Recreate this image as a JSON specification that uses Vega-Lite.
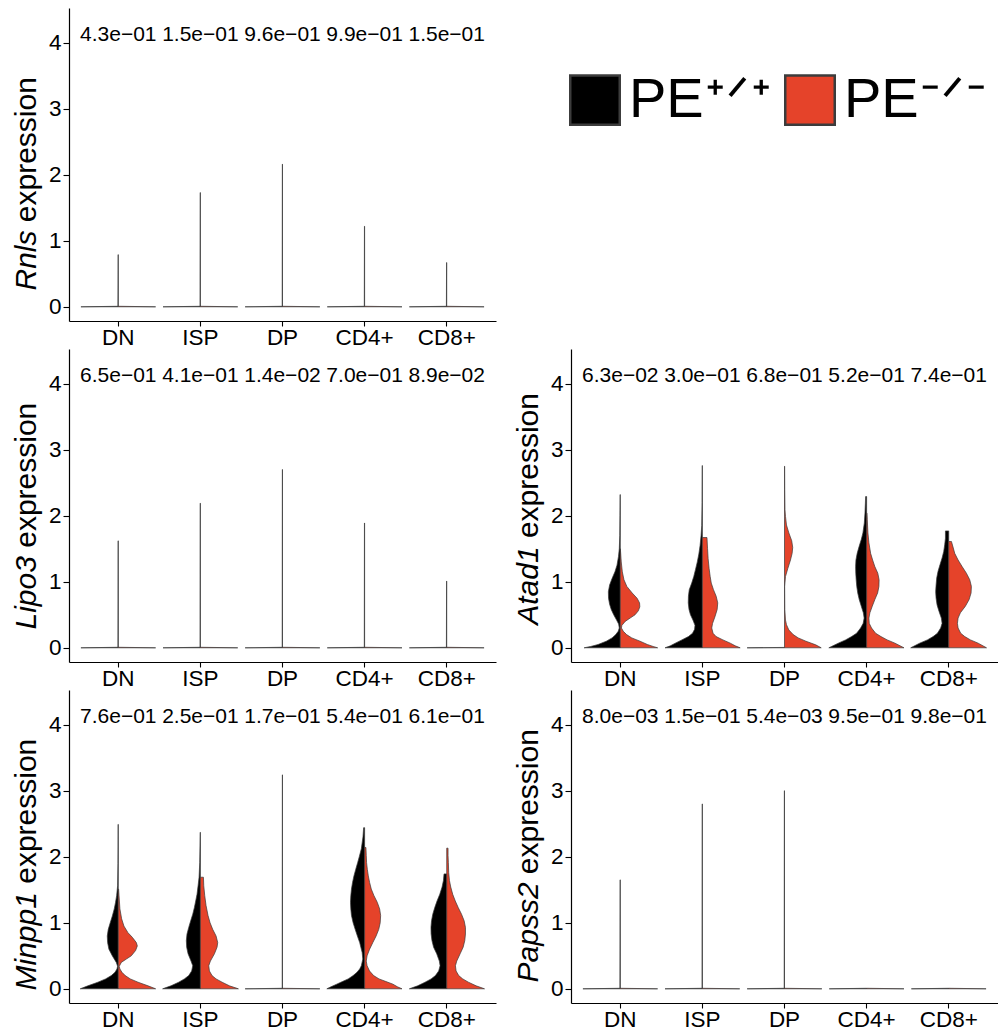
{
"$schema": "https://vega.github.io/schema/vega-lite/v6.json",
"background": "white",
"padding": {"left": 10, "top": 8, "right": 0, "bottom": 0},
"spacing": 0,
"config": {
  "view": {"stroke": null},
  "font": "Liberation Sans",
  "axis": {"labelFont": "Liberation Sans", "titleFont": "Liberation Sans", "labelColor": "#000", "titleColor": "#000", "domainColor": "#000", "tickColor": "#000", "domainWidth": 1.2, "tickWidth": 1.1, "tickSize": 6, "grid": false, "titleFontWeight": "normal", "titleFontSize": 30},
  "axisX": {"labelFontSize": 22.5, "labelPadding": 0, "tickSize": 5},
  "axisY": {"labelFontSize": 22.5, "labelPadding": 2}
},
"datasets": {
"pv": [
{"g":"Rnls","c":"DN","p":"4.3e−01"},{"g":"Rnls","c":"ISP","p":"1.5e−01"},{"g":"Rnls","c":"DP","p":"9.6e−01"},{"g":"Rnls","c":"CD4+","p":"9.9e−01"},{"g":"Rnls","c":"CD8+","p":"1.5e−01"},
{"g":"Lipo3","c":"DN","p":"6.5e−01"},{"g":"Lipo3","c":"ISP","p":"4.1e−01"},{"g":"Lipo3","c":"DP","p":"1.4e−02"},{"g":"Lipo3","c":"CD4+","p":"7.0e−01"},{"g":"Lipo3","c":"CD8+","p":"8.9e−02"},
{"g":"Atad1","c":"DN","p":"6.3e−02"},{"g":"Atad1","c":"ISP","p":"3.0e−01"},{"g":"Atad1","c":"DP","p":"6.8e−01"},{"g":"Atad1","c":"CD4+","p":"5.2e−01"},{"g":"Atad1","c":"CD8+","p":"7.4e−01"},
{"g":"Minpp1","c":"DN","p":"7.6e−01"},{"g":"Minpp1","c":"ISP","p":"2.5e−01"},{"g":"Minpp1","c":"DP","p":"1.7e−01"},{"g":"Minpp1","c":"CD4+","p":"5.4e−01"},{"g":"Minpp1","c":"CD8+","p":"6.1e−01"},
{"g":"Papss2","c":"DN","p":"8.0e−03"},{"g":"Papss2","c":"ISP","p":"1.5e−01"},{"g":"Papss2","c":"DP","p":"5.4e−03"},{"g":"Papss2","c":"CD4+","p":"9.5e−01"},{"g":"Papss2","c":"CD8+","p":"9.8e−01"}
],
"Rnls": [
{"c":"DN","t":"PE+/+","y":0,"w":0},{"c":"DN","t":"PE+/+","y":0,"w":0.455},{"c":"DN","t":"PE+/+","y":0.008,"w":0.004},{"c":"DN","t":"PE+/+","y":0.79,"w":0.002},{"c":"DN","t":"PE+/+","y":0.79,"w":0},{"c":"DN","t":"PE+/+","y":0,"w":0},
{"c":"DN","t":"PE-/-","y":0,"w":0},{"c":"DN","t":"PE-/-","y":0,"w":0.455},{"c":"DN","t":"PE-/-","y":0.008,"w":0.004},{"c":"DN","t":"PE-/-","y":0.008,"w":0},{"c":"DN","t":"PE-/-","y":0,"w":0},
{"c":"ISP","t":"PE+/+","y":0,"w":0},{"c":"ISP","t":"PE+/+","y":0,"w":0.455},{"c":"ISP","t":"PE+/+","y":0.008,"w":0.004},{"c":"ISP","t":"PE+/+","y":1.73,"w":0.002},{"c":"ISP","t":"PE+/+","y":1.73,"w":0},{"c":"ISP","t":"PE+/+","y":0,"w":0},
{"c":"ISP","t":"PE-/-","y":0,"w":0},{"c":"ISP","t":"PE-/-","y":0,"w":0.455},{"c":"ISP","t":"PE-/-","y":0.008,"w":0.004},{"c":"ISP","t":"PE-/-","y":0.008,"w":0},{"c":"ISP","t":"PE-/-","y":0,"w":0},
{"c":"DP","t":"PE+/+","y":0,"w":0},{"c":"DP","t":"PE+/+","y":0,"w":0.455},{"c":"DP","t":"PE+/+","y":0.008,"w":0.004},{"c":"DP","t":"PE+/+","y":2.16,"w":0.002},{"c":"DP","t":"PE+/+","y":2.16,"w":0},{"c":"DP","t":"PE+/+","y":0,"w":0},
{"c":"DP","t":"PE-/-","y":0,"w":0},{"c":"DP","t":"PE-/-","y":0,"w":0.455},{"c":"DP","t":"PE-/-","y":0.008,"w":0.004},{"c":"DP","t":"PE-/-","y":0.008,"w":0},{"c":"DP","t":"PE-/-","y":0,"w":0},
{"c":"CD4+","t":"PE+/+","y":0,"w":0},{"c":"CD4+","t":"PE+/+","y":0,"w":0.455},{"c":"CD4+","t":"PE+/+","y":0.008,"w":0.004},{"c":"CD4+","t":"PE+/+","y":1.22,"w":0.002},{"c":"CD4+","t":"PE+/+","y":1.22,"w":0},{"c":"CD4+","t":"PE+/+","y":0,"w":0},
{"c":"CD4+","t":"PE-/-","y":0,"w":0},{"c":"CD4+","t":"PE-/-","y":0,"w":0.455},{"c":"CD4+","t":"PE-/-","y":0.008,"w":0.004},{"c":"CD4+","t":"PE-/-","y":0.008,"w":0},{"c":"CD4+","t":"PE-/-","y":0,"w":0},
{"c":"CD8+","t":"PE+/+","y":0,"w":0},{"c":"CD8+","t":"PE+/+","y":0,"w":0.455},{"c":"CD8+","t":"PE+/+","y":0.008,"w":0.004},{"c":"CD8+","t":"PE+/+","y":0.67,"w":0.002},{"c":"CD8+","t":"PE+/+","y":0.67,"w":0},{"c":"CD8+","t":"PE+/+","y":0,"w":0},
{"c":"CD8+","t":"PE-/-","y":0,"w":0},{"c":"CD8+","t":"PE-/-","y":0,"w":0.455},{"c":"CD8+","t":"PE-/-","y":0.008,"w":0.004},{"c":"CD8+","t":"PE-/-","y":0.008,"w":0},{"c":"CD8+","t":"PE-/-","y":0,"w":0}
],
"Lipo3": [
{"c":"DN","t":"PE+/+","y":0,"w":0},{"c":"DN","t":"PE+/+","y":0,"w":0.455},{"c":"DN","t":"PE+/+","y":0.008,"w":0.004},{"c":"DN","t":"PE+/+","y":1.62,"w":0.002},{"c":"DN","t":"PE+/+","y":1.62,"w":0},{"c":"DN","t":"PE+/+","y":0,"w":0},
{"c":"DN","t":"PE-/-","y":0,"w":0},{"c":"DN","t":"PE-/-","y":0,"w":0.455},{"c":"DN","t":"PE-/-","y":0.008,"w":0.004},{"c":"DN","t":"PE-/-","y":0.008,"w":0},{"c":"DN","t":"PE-/-","y":0,"w":0},
{"c":"ISP","t":"PE+/+","y":0,"w":0},{"c":"ISP","t":"PE+/+","y":0,"w":0.455},{"c":"ISP","t":"PE+/+","y":0.008,"w":0.004},{"c":"ISP","t":"PE+/+","y":2.19,"w":0.002},{"c":"ISP","t":"PE+/+","y":2.19,"w":0},{"c":"ISP","t":"PE+/+","y":0,"w":0},
{"c":"ISP","t":"PE-/-","y":0,"w":0},{"c":"ISP","t":"PE-/-","y":0,"w":0.455},{"c":"ISP","t":"PE-/-","y":0.008,"w":0.004},{"c":"ISP","t":"PE-/-","y":0.008,"w":0},{"c":"ISP","t":"PE-/-","y":0,"w":0},
{"c":"DP","t":"PE+/+","y":0,"w":0},{"c":"DP","t":"PE+/+","y":0,"w":0.455},{"c":"DP","t":"PE+/+","y":0.008,"w":0.004},{"c":"DP","t":"PE+/+","y":2.7,"w":0.002},{"c":"DP","t":"PE+/+","y":2.7,"w":0},{"c":"DP","t":"PE+/+","y":0,"w":0},
{"c":"DP","t":"PE-/-","y":0,"w":0},{"c":"DP","t":"PE-/-","y":0,"w":0.455},{"c":"DP","t":"PE-/-","y":0.008,"w":0.004},{"c":"DP","t":"PE-/-","y":0.008,"w":0},{"c":"DP","t":"PE-/-","y":0,"w":0},
{"c":"CD4+","t":"PE+/+","y":0,"w":0},{"c":"CD4+","t":"PE+/+","y":0,"w":0.455},{"c":"CD4+","t":"PE+/+","y":0.008,"w":0.004},{"c":"CD4+","t":"PE+/+","y":1.89,"w":0.002},{"c":"CD4+","t":"PE+/+","y":1.89,"w":0},{"c":"CD4+","t":"PE+/+","y":0,"w":0},
{"c":"CD4+","t":"PE-/-","y":0,"w":0},{"c":"CD4+","t":"PE-/-","y":0,"w":0.455},{"c":"CD4+","t":"PE-/-","y":0.008,"w":0.004},{"c":"CD4+","t":"PE-/-","y":0.008,"w":0},{"c":"CD4+","t":"PE-/-","y":0,"w":0},
{"c":"CD8+","t":"PE+/+","y":0,"w":0},{"c":"CD8+","t":"PE+/+","y":0,"w":0.455},{"c":"CD8+","t":"PE+/+","y":0.008,"w":0.004},{"c":"CD8+","t":"PE+/+","y":1.01,"w":0.002},{"c":"CD8+","t":"PE+/+","y":1.01,"w":0},{"c":"CD8+","t":"PE+/+","y":0,"w":0},
{"c":"CD8+","t":"PE-/-","y":0,"w":0},{"c":"CD8+","t":"PE-/-","y":0,"w":0.455},{"c":"CD8+","t":"PE-/-","y":0.008,"w":0.004},{"c":"CD8+","t":"PE-/-","y":0.008,"w":0},{"c":"CD8+","t":"PE-/-","y":0,"w":0}
],
"Papss2": [
{"c":"DN","t":"PE+/+","y":0,"w":0},{"c":"DN","t":"PE+/+","y":0,"w":0.455},{"c":"DN","t":"PE+/+","y":0.008,"w":0.004},{"c":"DN","t":"PE+/+","y":1.65,"w":0.002},{"c":"DN","t":"PE+/+","y":1.65,"w":0},{"c":"DN","t":"PE+/+","y":0,"w":0},
{"c":"DN","t":"PE-/-","y":0,"w":0},{"c":"DN","t":"PE-/-","y":0,"w":0.455},{"c":"DN","t":"PE-/-","y":0.008,"w":0.004},{"c":"DN","t":"PE-/-","y":0.008,"w":0},{"c":"DN","t":"PE-/-","y":0,"w":0},
{"c":"ISP","t":"PE+/+","y":0,"w":0},{"c":"ISP","t":"PE+/+","y":0,"w":0.455},{"c":"ISP","t":"PE+/+","y":0.008,"w":0.004},{"c":"ISP","t":"PE+/+","y":2.8,"w":0.002},{"c":"ISP","t":"PE+/+","y":2.8,"w":0},{"c":"ISP","t":"PE+/+","y":0,"w":0},
{"c":"ISP","t":"PE-/-","y":0,"w":0},{"c":"ISP","t":"PE-/-","y":0,"w":0.455},{"c":"ISP","t":"PE-/-","y":0.008,"w":0.004},{"c":"ISP","t":"PE-/-","y":0.008,"w":0},{"c":"ISP","t":"PE-/-","y":0,"w":0},
{"c":"DP","t":"PE+/+","y":0,"w":0},{"c":"DP","t":"PE+/+","y":0,"w":0.455},{"c":"DP","t":"PE+/+","y":0.008,"w":0.004},{"c":"DP","t":"PE+/+","y":3.0,"w":0.002},{"c":"DP","t":"PE+/+","y":3.0,"w":0},{"c":"DP","t":"PE+/+","y":0,"w":0},
{"c":"DP","t":"PE-/-","y":0,"w":0},{"c":"DP","t":"PE-/-","y":0,"w":0.455},{"c":"DP","t":"PE-/-","y":0.008,"w":0.004},{"c":"DP","t":"PE-/-","y":0.008,"w":0},{"c":"DP","t":"PE-/-","y":0,"w":0},
{"c":"CD4+","t":"PE+/+","y":0,"w":0},{"c":"CD4+","t":"PE+/+","y":0,"w":0.455},{"c":"CD4+","t":"PE+/+","y":0.008,"w":0.004},{"c":"CD4+","t":"PE+/+","y":0.008,"w":0},{"c":"CD4+","t":"PE+/+","y":0,"w":0},
{"c":"CD4+","t":"PE-/-","y":0,"w":0},{"c":"CD4+","t":"PE-/-","y":0,"w":0.455},{"c":"CD4+","t":"PE-/-","y":0.008,"w":0.004},{"c":"CD4+","t":"PE-/-","y":0.008,"w":0},{"c":"CD4+","t":"PE-/-","y":0,"w":0},
{"c":"CD8+","t":"PE+/+","y":0,"w":0},{"c":"CD8+","t":"PE+/+","y":0,"w":0.455},{"c":"CD8+","t":"PE+/+","y":0.008,"w":0.004},{"c":"CD8+","t":"PE+/+","y":0.008,"w":0},{"c":"CD8+","t":"PE+/+","y":0,"w":0},
{"c":"CD8+","t":"PE-/-","y":0,"w":0},{"c":"CD8+","t":"PE-/-","y":0,"w":0.455},{"c":"CD8+","t":"PE-/-","y":0.008,"w":0.004},{"c":"CD8+","t":"PE-/-","y":0.008,"w":0},{"c":"CD8+","t":"PE-/-","y":0,"w":0}
],
"Atad1": [
{"c":"DN","t":"PE+/+","y":0,"w":0},{"c":"DN","t":"PE+/+","y":0,"w":0.44},{"c":"DN","t":"PE+/+","y":0.02,"w":0.36},{"c":"DN","t":"PE+/+","y":0.05,"w":0.27},{"c":"DN","t":"PE+/+","y":0.1,"w":0.17},{"c":"DN","t":"PE+/+","y":0.15,"w":0.1},{"c":"DN","t":"PE+/+","y":0.2,"w":0.055},{"c":"DN","t":"PE+/+","y":0.25,"w":0.025},{"c":"DN","t":"PE+/+","y":0.3,"w":0.012},{"c":"DN","t":"PE+/+","y":0.36,"w":0.02},{"c":"DN","t":"PE+/+","y":0.42,"w":0.045},{"c":"DN","t":"PE+/+","y":0.5,"w":0.08},{"c":"DN","t":"PE+/+","y":0.58,"w":0.11},{"c":"DN","t":"PE+/+","y":0.66,"w":0.13},{"c":"DN","t":"PE+/+","y":0.75,"w":0.143},{"c":"DN","t":"PE+/+","y":0.85,"w":0.145},{"c":"DN","t":"PE+/+","y":0.95,"w":0.13},{"c":"DN","t":"PE+/+","y":1.05,"w":0.1},{"c":"DN","t":"PE+/+","y":1.15,"w":0.065},{"c":"DN","t":"PE+/+","y":1.25,"w":0.04},{"c":"DN","t":"PE+/+","y":1.38,"w":0.022},{"c":"DN","t":"PE+/+","y":1.5,"w":0.012},{"c":"DN","t":"PE+/+","y":1.7,"w":0.006},{"c":"DN","t":"PE+/+","y":2.0,"w":0.004},{"c":"DN","t":"PE+/+","y":2.32,"w":0.002},{"c":"DN","t":"PE+/+","y":2.32,"w":0},{"c":"DN","t":"PE+/+","y":0,"w":0},
{"c":"DN","t":"PE-/-","y":0,"w":0},{"c":"DN","t":"PE-/-","y":0,"w":0.455},{"c":"DN","t":"PE-/-","y":0.02,"w":0.4},{"c":"DN","t":"PE-/-","y":0.05,"w":0.33},{"c":"DN","t":"PE-/-","y":0.1,"w":0.24},{"c":"DN","t":"PE-/-","y":0.15,"w":0.14},{"c":"DN","t":"PE-/-","y":0.2,"w":0.077},{"c":"DN","t":"PE-/-","y":0.25,"w":0.037},{"c":"DN","t":"PE-/-","y":0.3,"w":0.014},{"c":"DN","t":"PE-/-","y":0.34,"w":0.02},{"c":"DN","t":"PE-/-","y":0.4,"w":0.06},{"c":"DN","t":"PE-/-","y":0.45,"w":0.12},{"c":"DN","t":"PE-/-","y":0.5,"w":0.18},{"c":"DN","t":"PE-/-","y":0.56,"w":0.22},{"c":"DN","t":"PE-/-","y":0.62,"w":0.238},{"c":"DN","t":"PE-/-","y":0.68,"w":0.235},{"c":"DN","t":"PE-/-","y":0.75,"w":0.205},{"c":"DN","t":"PE-/-","y":0.83,"w":0.145},{"c":"DN","t":"PE-/-","y":0.93,"w":0.08},{"c":"DN","t":"PE-/-","y":1.03,"w":0.045},{"c":"DN","t":"PE-/-","y":1.15,"w":0.025},{"c":"DN","t":"PE-/-","y":1.3,"w":0.012},{"c":"DN","t":"PE-/-","y":1.45,"w":0.004},{"c":"DN","t":"PE-/-","y":1.5,"w":0},{"c":"DN","t":"PE-/-","y":0,"w":0},
{"c":"ISP","t":"PE+/+","y":0,"w":0},{"c":"ISP","t":"PE+/+","y":0,"w":0.455},{"c":"ISP","t":"PE+/+","y":0.03,"w":0.39},{"c":"ISP","t":"PE+/+","y":0.07,"w":0.33},{"c":"ISP","t":"PE+/+","y":0.12,"w":0.25},{"c":"ISP","t":"PE+/+","y":0.17,"w":0.17},{"c":"ISP","t":"PE+/+","y":0.22,"w":0.12},{"c":"ISP","t":"PE+/+","y":0.28,"w":0.095},{"c":"ISP","t":"PE+/+","y":0.34,"w":0.09},{"c":"ISP","t":"PE+/+","y":0.42,"w":0.115},{"c":"ISP","t":"PE+/+","y":0.5,"w":0.145},{"c":"ISP","t":"PE+/+","y":0.58,"w":0.163},{"c":"ISP","t":"PE+/+","y":0.68,"w":0.172},{"c":"ISP","t":"PE+/+","y":0.78,"w":0.17},{"c":"ISP","t":"PE+/+","y":0.88,"w":0.16},{"c":"ISP","t":"PE+/+","y":0.98,"w":0.13},{"c":"ISP","t":"PE+/+","y":1.08,"w":0.105},{"c":"ISP","t":"PE+/+","y":1.18,"w":0.085},{"c":"ISP","t":"PE+/+","y":1.3,"w":0.062},{"c":"ISP","t":"PE+/+","y":1.42,"w":0.043},{"c":"ISP","t":"PE+/+","y":1.55,"w":0.028},{"c":"ISP","t":"PE+/+","y":1.7,"w":0.016},{"c":"ISP","t":"PE+/+","y":1.85,"w":0.008},{"c":"ISP","t":"PE+/+","y":2.2,"w":0.004},{"c":"ISP","t":"PE+/+","y":2.76,"w":0.002},{"c":"ISP","t":"PE+/+","y":2.76,"w":0},{"c":"ISP","t":"PE+/+","y":0,"w":0},
{"c":"ISP","t":"PE-/-","y":0,"w":0},{"c":"ISP","t":"PE-/-","y":0,"w":0.46},{"c":"ISP","t":"PE-/-","y":0.03,"w":0.4},{"c":"ISP","t":"PE-/-","y":0.07,"w":0.34},{"c":"ISP","t":"PE-/-","y":0.12,"w":0.25},{"c":"ISP","t":"PE-/-","y":0.17,"w":0.167},{"c":"ISP","t":"PE-/-","y":0.22,"w":0.13},{"c":"ISP","t":"PE-/-","y":0.3,"w":0.114},{"c":"ISP","t":"PE-/-","y":0.37,"w":0.124},{"c":"ISP","t":"PE-/-","y":0.47,"w":0.153},{"c":"ISP","t":"PE-/-","y":0.58,"w":0.18},{"c":"ISP","t":"PE-/-","y":0.68,"w":0.187},{"c":"ISP","t":"PE-/-","y":0.78,"w":0.168},{"c":"ISP","t":"PE-/-","y":0.88,"w":0.135},{"c":"ISP","t":"PE-/-","y":0.98,"w":0.108},{"c":"ISP","t":"PE-/-","y":1.08,"w":0.095},{"c":"ISP","t":"PE-/-","y":1.2,"w":0.082},{"c":"ISP","t":"PE-/-","y":1.35,"w":0.07},{"c":"ISP","t":"PE-/-","y":1.5,"w":0.063},{"c":"ISP","t":"PE-/-","y":1.67,"w":0.056},{"c":"ISP","t":"PE-/-","y":1.67,"w":0},{"c":"ISP","t":"PE-/-","y":0,"w":0},
{"c":"DP","t":"PE+/+","y":0,"w":0},{"c":"DP","t":"PE+/+","y":0,"w":0.455},{"c":"DP","t":"PE+/+","y":0.006,"w":0.003},{"c":"DP","t":"PE+/+","y":0.006,"w":0},{"c":"DP","t":"PE+/+","y":0,"w":0},
{"c":"DP","t":"PE-/-","y":0,"w":0},{"c":"DP","t":"PE-/-","y":0,"w":0.447},{"c":"DP","t":"PE-/-","y":0.045,"w":0.38},{"c":"DP","t":"PE-/-","y":0.1,"w":0.26},{"c":"DP","t":"PE-/-","y":0.15,"w":0.167},{"c":"DP","t":"PE-/-","y":0.2,"w":0.106},{"c":"DP","t":"PE-/-","y":0.27,"w":0.053},{"c":"DP","t":"PE-/-","y":0.35,"w":0.024},{"c":"DP","t":"PE-/-","y":0.42,"w":0.012},{"c":"DP","t":"PE-/-","y":0.58,"w":0.004},{"c":"DP","t":"PE-/-","y":0.93,"w":0.002},{"c":"DP","t":"PE-/-","y":1.08,"w":0.012},{"c":"DP","t":"PE-/-","y":1.2,"w":0.04},{"c":"DP","t":"PE-/-","y":1.33,"w":0.073},{"c":"DP","t":"PE-/-","y":1.43,"w":0.093},{"c":"DP","t":"PE-/-","y":1.52,"w":0.1},{"c":"DP","t":"PE-/-","y":1.62,"w":0.088},{"c":"DP","t":"PE-/-","y":1.74,"w":0.053},{"c":"DP","t":"PE-/-","y":1.86,"w":0.024},{"c":"DP","t":"PE-/-","y":1.99,"w":0.012},{"c":"DP","t":"PE-/-","y":2.09,"w":0.006},{"c":"DP","t":"PE-/-","y":2.4,"w":0.003},{"c":"DP","t":"PE-/-","y":2.75,"w":0.002},{"c":"DP","t":"PE-/-","y":2.75,"w":0},{"c":"DP","t":"PE-/-","y":0,"w":0},
{"c":"CD4+","t":"PE+/+","y":0,"w":0},{"c":"CD4+","t":"PE+/+","y":0,"w":0.46},{"c":"CD4+","t":"PE+/+","y":0.07,"w":0.345},{"c":"CD4+","t":"PE+/+","y":0.12,"w":0.256},{"c":"CD4+","t":"PE+/+","y":0.17,"w":0.183},{"c":"CD4+","t":"PE+/+","y":0.22,"w":0.122},{"c":"CD4+","t":"PE+/+","y":0.3,"w":0.073},{"c":"CD4+","t":"PE+/+","y":0.37,"w":0.042},{"c":"CD4+","t":"PE+/+","y":0.45,"w":0.03},{"c":"CD4+","t":"PE+/+","y":0.53,"w":0.04},{"c":"CD4+","t":"PE+/+","y":0.63,"w":0.065},{"c":"CD4+","t":"PE+/+","y":0.73,"w":0.09},{"c":"CD4+","t":"PE+/+","y":0.83,"w":0.108},{"c":"CD4+","t":"PE+/+","y":0.93,"w":0.12},{"c":"CD4+","t":"PE+/+","y":1.03,"w":0.127},{"c":"CD4+","t":"PE+/+","y":1.13,"w":0.132},{"c":"CD4+","t":"PE+/+","y":1.23,"w":0.134},{"c":"CD4+","t":"PE+/+","y":1.33,"w":0.13},{"c":"CD4+","t":"PE+/+","y":1.43,"w":0.115},{"c":"CD4+","t":"PE+/+","y":1.54,"w":0.09},{"c":"CD4+","t":"PE+/+","y":1.64,"w":0.065},{"c":"CD4+","t":"PE+/+","y":1.74,"w":0.045},{"c":"CD4+","t":"PE+/+","y":1.89,"w":0.028},{"c":"CD4+","t":"PE+/+","y":2.04,"w":0.02},{"c":"CD4+","t":"PE+/+","y":2.19,"w":0.015},{"c":"CD4+","t":"PE+/+","y":2.29,"w":0.012},{"c":"CD4+","t":"PE+/+","y":2.29,"w":0},{"c":"CD4+","t":"PE+/+","y":0,"w":0},
{"c":"CD4+","t":"PE-/-","y":0,"w":0},{"c":"CD4+","t":"PE-/-","y":0,"w":0.455},{"c":"CD4+","t":"PE-/-","y":0.07,"w":0.345},{"c":"CD4+","t":"PE-/-","y":0.12,"w":0.25},{"c":"CD4+","t":"PE-/-","y":0.17,"w":0.175},{"c":"CD4+","t":"PE-/-","y":0.22,"w":0.11},{"c":"CD4+","t":"PE-/-","y":0.3,"w":0.06},{"c":"CD4+","t":"PE-/-","y":0.37,"w":0.032},{"c":"CD4+","t":"PE-/-","y":0.45,"w":0.028},{"c":"CD4+","t":"PE-/-","y":0.53,"w":0.04},{"c":"CD4+","t":"PE-/-","y":0.63,"w":0.069},{"c":"CD4+","t":"PE-/-","y":0.73,"w":0.1},{"c":"CD4+","t":"PE-/-","y":0.83,"w":0.134},{"c":"CD4+","t":"PE-/-","y":0.93,"w":0.15},{"c":"CD4+","t":"PE-/-","y":1.03,"w":0.152},{"c":"CD4+","t":"PE-/-","y":1.13,"w":0.136},{"c":"CD4+","t":"PE-/-","y":1.23,"w":0.1},{"c":"CD4+","t":"PE-/-","y":1.33,"w":0.073},{"c":"CD4+","t":"PE-/-","y":1.43,"w":0.049},{"c":"CD4+","t":"PE-/-","y":1.59,"w":0.028},{"c":"CD4+","t":"PE-/-","y":1.74,"w":0.016},{"c":"CD4+","t":"PE-/-","y":1.94,"w":0.008},{"c":"CD4+","t":"PE-/-","y":2.04,"w":0.004},{"c":"CD4+","t":"PE-/-","y":2.04,"w":0},{"c":"CD4+","t":"PE-/-","y":0,"w":0},
{"c":"CD8+","t":"PE+/+","y":0,"w":0},{"c":"CD8+","t":"PE+/+","y":0,"w":0.463},{"c":"CD8+","t":"PE+/+","y":0.07,"w":0.354},{"c":"CD8+","t":"PE+/+","y":0.12,"w":0.26},{"c":"CD8+","t":"PE+/+","y":0.17,"w":0.19},{"c":"CD8+","t":"PE+/+","y":0.22,"w":0.138},{"c":"CD8+","t":"PE+/+","y":0.3,"w":0.098},{"c":"CD8+","t":"PE+/+","y":0.37,"w":0.081},{"c":"CD8+","t":"PE+/+","y":0.45,"w":0.09},{"c":"CD8+","t":"PE+/+","y":0.55,"w":0.118},{"c":"CD8+","t":"PE+/+","y":0.65,"w":0.142},{"c":"CD8+","t":"PE+/+","y":0.75,"w":0.154},{"c":"CD8+","t":"PE+/+","y":0.85,"w":0.159},{"c":"CD8+","t":"PE+/+","y":0.95,"w":0.154},{"c":"CD8+","t":"PE+/+","y":1.06,"w":0.146},{"c":"CD8+","t":"PE+/+","y":1.16,"w":0.13},{"c":"CD8+","t":"PE+/+","y":1.26,"w":0.106},{"c":"CD8+","t":"PE+/+","y":1.36,"w":0.081},{"c":"CD8+","t":"PE+/+","y":1.46,"w":0.061},{"c":"CD8+","t":"PE+/+","y":1.56,"w":0.049},{"c":"CD8+","t":"PE+/+","y":1.66,"w":0.04},{"c":"CD8+","t":"PE+/+","y":1.77,"w":0.04},{"c":"CD8+","t":"PE+/+","y":1.77,"w":0},{"c":"CD8+","t":"PE+/+","y":0,"w":0},
{"c":"CD8+","t":"PE-/-","y":0,"w":0},{"c":"CD8+","t":"PE-/-","y":0,"w":0.46},{"c":"CD8+","t":"PE-/-","y":0.07,"w":0.358},{"c":"CD8+","t":"PE-/-","y":0.12,"w":0.264},{"c":"CD8+","t":"PE-/-","y":0.17,"w":0.195},{"c":"CD8+","t":"PE-/-","y":0.22,"w":0.146},{"c":"CD8+","t":"PE-/-","y":0.3,"w":0.114},{"c":"CD8+","t":"PE-/-","y":0.37,"w":0.106},{"c":"CD8+","t":"PE-/-","y":0.45,"w":0.114},{"c":"CD8+","t":"PE-/-","y":0.53,"w":0.142},{"c":"CD8+","t":"PE-/-","y":0.63,"w":0.203},{"c":"CD8+","t":"PE-/-","y":0.73,"w":0.248},{"c":"CD8+","t":"PE-/-","y":0.83,"w":0.272},{"c":"CD8+","t":"PE-/-","y":0.93,"w":0.276},{"c":"CD8+","t":"PE-/-","y":1.03,"w":0.256},{"c":"CD8+","t":"PE-/-","y":1.13,"w":0.215},{"c":"CD8+","t":"PE-/-","y":1.23,"w":0.163},{"c":"CD8+","t":"PE-/-","y":1.33,"w":0.114},{"c":"CD8+","t":"PE-/-","y":1.43,"w":0.073},{"c":"CD8+","t":"PE-/-","y":1.54,"w":0.049},{"c":"CD8+","t":"PE-/-","y":1.61,"w":0.033},{"c":"CD8+","t":"PE-/-","y":1.61,"w":0},{"c":"CD8+","t":"PE-/-","y":0,"w":0}
],
"Minpp1": [
{"c":"DN","t":"PE+/+","y":0,"w":0},{"c":"DN","t":"PE+/+","y":0,"w":0.463},{"c":"DN","t":"PE+/+","y":0.045,"w":0.37},{"c":"DN","t":"PE+/+","y":0.1,"w":0.248},{"c":"DN","t":"PE+/+","y":0.15,"w":0.154},{"c":"DN","t":"PE+/+","y":0.2,"w":0.085},{"c":"DN","t":"PE+/+","y":0.25,"w":0.04},{"c":"DN","t":"PE+/+","y":0.3,"w":0.016},{"c":"DN","t":"PE+/+","y":0.34,"w":0.008},{"c":"DN","t":"PE+/+","y":0.4,"w":0.024},{"c":"DN","t":"PE+/+","y":0.5,"w":0.073},{"c":"DN","t":"PE+/+","y":0.6,"w":0.114},{"c":"DN","t":"PE+/+","y":0.7,"w":0.13},{"c":"DN","t":"PE+/+","y":0.8,"w":0.134},{"c":"DN","t":"PE+/+","y":0.9,"w":0.122},{"c":"DN","t":"PE+/+","y":1.0,"w":0.098},{"c":"DN","t":"PE+/+","y":1.1,"w":0.073},{"c":"DN","t":"PE+/+","y":1.21,"w":0.049},{"c":"DN","t":"PE+/+","y":1.31,"w":0.033},{"c":"DN","t":"PE+/+","y":1.41,"w":0.02},{"c":"DN","t":"PE+/+","y":1.56,"w":0.008},{"c":"DN","t":"PE+/+","y":1.9,"w":0.004},{"c":"DN","t":"PE+/+","y":2.49,"w":0.002},{"c":"DN","t":"PE+/+","y":2.49,"w":0},{"c":"DN","t":"PE+/+","y":0,"w":0},
{"c":"DN","t":"PE-/-","y":0,"w":0},{"c":"DN","t":"PE-/-","y":0,"w":0.455},{"c":"DN","t":"PE-/-","y":0.045,"w":0.362},{"c":"DN","t":"PE-/-","y":0.1,"w":0.24},{"c":"DN","t":"PE-/-","y":0.15,"w":0.146},{"c":"DN","t":"PE-/-","y":0.2,"w":0.085},{"c":"DN","t":"PE-/-","y":0.25,"w":0.045},{"c":"DN","t":"PE-/-","y":0.3,"w":0.02},{"c":"DN","t":"PE-/-","y":0.34,"w":0.012},{"c":"DN","t":"PE-/-","y":0.4,"w":0.037},{"c":"DN","t":"PE-/-","y":0.45,"w":0.098},{"c":"DN","t":"PE-/-","y":0.5,"w":0.159},{"c":"DN","t":"PE-/-","y":0.58,"w":0.211},{"c":"DN","t":"PE-/-","y":0.65,"w":0.232},{"c":"DN","t":"PE-/-","y":0.7,"w":0.22},{"c":"DN","t":"PE-/-","y":0.78,"w":0.171},{"c":"DN","t":"PE-/-","y":0.85,"w":0.118},{"c":"DN","t":"PE-/-","y":0.95,"w":0.069},{"c":"DN","t":"PE-/-","y":1.06,"w":0.041},{"c":"DN","t":"PE-/-","y":1.21,"w":0.02},{"c":"DN","t":"PE-/-","y":1.36,"w":0.012},{"c":"DN","t":"PE-/-","y":1.51,"w":0.004},{"c":"DN","t":"PE-/-","y":1.51,"w":0},{"c":"DN","t":"PE-/-","y":0,"w":0},
{"c":"ISP","t":"PE+/+","y":0,"w":0},{"c":"ISP","t":"PE+/+","y":0,"w":0.46},{"c":"ISP","t":"PE+/+","y":0.045,"w":0.358},{"c":"ISP","t":"PE+/+","y":0.1,"w":0.264},{"c":"ISP","t":"PE+/+","y":0.15,"w":0.195},{"c":"ISP","t":"PE+/+","y":0.2,"w":0.142},{"c":"ISP","t":"PE+/+","y":0.27,"w":0.106},{"c":"ISP","t":"PE+/+","y":0.35,"w":0.093},{"c":"ISP","t":"PE+/+","y":0.42,"w":0.114},{"c":"ISP","t":"PE+/+","y":0.53,"w":0.15},{"c":"ISP","t":"PE+/+","y":0.63,"w":0.167},{"c":"ISP","t":"PE+/+","y":0.73,"w":0.171},{"c":"ISP","t":"PE+/+","y":0.83,"w":0.163},{"c":"ISP","t":"PE+/+","y":0.93,"w":0.142},{"c":"ISP","t":"PE+/+","y":1.03,"w":0.118},{"c":"ISP","t":"PE+/+","y":1.13,"w":0.093},{"c":"ISP","t":"PE+/+","y":1.23,"w":0.073},{"c":"ISP","t":"PE+/+","y":1.33,"w":0.057},{"c":"ISP","t":"PE+/+","y":1.43,"w":0.041},{"c":"ISP","t":"PE+/+","y":1.56,"w":0.028},{"c":"ISP","t":"PE+/+","y":1.69,"w":0.016},{"c":"ISP","t":"PE+/+","y":1.91,"w":0.008},{"c":"ISP","t":"PE+/+","y":2.37,"w":0.002},{"c":"ISP","t":"PE+/+","y":2.37,"w":0},{"c":"ISP","t":"PE+/+","y":0,"w":0},
{"c":"ISP","t":"PE-/-","y":0,"w":0},{"c":"ISP","t":"PE-/-","y":0,"w":0.463},{"c":"ISP","t":"PE-/-","y":0.045,"w":0.354},{"c":"ISP","t":"PE-/-","y":0.1,"w":0.264},{"c":"ISP","t":"PE-/-","y":0.15,"w":0.191},{"c":"ISP","t":"PE-/-","y":0.2,"w":0.142},{"c":"ISP","t":"PE-/-","y":0.27,"w":0.11},{"c":"ISP","t":"PE-/-","y":0.35,"w":0.102},{"c":"ISP","t":"PE-/-","y":0.42,"w":0.122},{"c":"ISP","t":"PE-/-","y":0.53,"w":0.171},{"c":"ISP","t":"PE-/-","y":0.63,"w":0.203},{"c":"ISP","t":"PE-/-","y":0.7,"w":0.211},{"c":"ISP","t":"PE-/-","y":0.8,"w":0.191},{"c":"ISP","t":"PE-/-","y":0.9,"w":0.15},{"c":"ISP","t":"PE-/-","y":1.0,"w":0.118},{"c":"ISP","t":"PE-/-","y":1.11,"w":0.093},{"c":"ISP","t":"PE-/-","y":1.26,"w":0.069},{"c":"ISP","t":"PE-/-","y":1.41,"w":0.053},{"c":"ISP","t":"PE-/-","y":1.56,"w":0.041},{"c":"ISP","t":"PE-/-","y":1.69,"w":0.037},{"c":"ISP","t":"PE-/-","y":1.69,"w":0},{"c":"ISP","t":"PE-/-","y":0,"w":0},
{"c":"DP","t":"PE+/+","y":0,"w":0},{"c":"DP","t":"PE+/+","y":0,"w":0.455},{"c":"DP","t":"PE+/+","y":0.008,"w":0.004},{"c":"DP","t":"PE+/+","y":3.24,"w":0.002},{"c":"DP","t":"PE+/+","y":3.24,"w":0},{"c":"DP","t":"PE+/+","y":0,"w":0},
{"c":"DP","t":"PE-/-","y":0,"w":0},{"c":"DP","t":"PE-/-","y":0,"w":0.455},{"c":"DP","t":"PE-/-","y":0.008,"w":0.004},{"c":"DP","t":"PE-/-","y":0.008,"w":0},{"c":"DP","t":"PE-/-","y":0,"w":0},
{"c":"CD4+","t":"PE+/+","y":0,"w":0},{"c":"CD4+","t":"PE+/+","y":0,"w":0.46},{"c":"CD4+","t":"PE+/+","y":0.03,"w":0.41},{"c":"CD4+","t":"PE+/+","y":0.07,"w":0.34},{"c":"CD4+","t":"PE+/+","y":0.11,"w":0.27},{"c":"CD4+","t":"PE+/+","y":0.15,"w":0.2},{"c":"CD4+","t":"PE+/+","y":0.2,"w":0.14},{"c":"CD4+","t":"PE+/+","y":0.25,"w":0.093},{"c":"CD4+","t":"PE+/+","y":0.3,"w":0.06},{"c":"CD4+","t":"PE+/+","y":0.35,"w":0.04},{"c":"CD4+","t":"PE+/+","y":0.45,"w":0.022},{"c":"CD4+","t":"PE+/+","y":0.55,"w":0.03},{"c":"CD4+","t":"PE+/+","y":0.7,"w":0.06},{"c":"CD4+","t":"PE+/+","y":0.8,"w":0.088},{"c":"CD4+","t":"PE+/+","y":0.9,"w":0.115},{"c":"CD4+","t":"PE+/+","y":1.0,"w":0.14},{"c":"CD4+","t":"PE+/+","y":1.11,"w":0.16},{"c":"CD4+","t":"PE+/+","y":1.21,"w":0.168},{"c":"CD4+","t":"PE+/+","y":1.31,"w":0.172},{"c":"CD4+","t":"PE+/+","y":1.41,"w":0.168},{"c":"CD4+","t":"PE+/+","y":1.51,"w":0.16},{"c":"CD4+","t":"PE+/+","y":1.61,"w":0.147},{"c":"CD4+","t":"PE+/+","y":1.71,"w":0.13},{"c":"CD4+","t":"PE+/+","y":1.81,"w":0.108},{"c":"CD4+","t":"PE+/+","y":1.91,"w":0.085},{"c":"CD4+","t":"PE+/+","y":2.0,"w":0.065},{"c":"CD4+","t":"PE+/+","y":2.12,"w":0.04},{"c":"CD4+","t":"PE+/+","y":2.3,"w":0.02},{"c":"CD4+","t":"PE+/+","y":2.44,"w":0.012},{"c":"CD4+","t":"PE+/+","y":2.44,"w":0},{"c":"CD4+","t":"PE+/+","y":0,"w":0},
{"c":"CD4+","t":"PE-/-","y":0,"w":0},{"c":"CD4+","t":"PE-/-","y":0,"w":0.455},{"c":"CD4+","t":"PE-/-","y":0.03,"w":0.4},{"c":"CD4+","t":"PE-/-","y":0.07,"w":0.345},{"c":"CD4+","t":"PE-/-","y":0.11,"w":0.26},{"c":"CD4+","t":"PE-/-","y":0.15,"w":0.175},{"c":"CD4+","t":"PE-/-","y":0.2,"w":0.11},{"c":"CD4+","t":"PE-/-","y":0.27,"w":0.06},{"c":"CD4+","t":"PE-/-","y":0.35,"w":0.03},{"c":"CD4+","t":"PE-/-","y":0.42,"w":0.02},{"c":"CD4+","t":"PE-/-","y":0.5,"w":0.03},{"c":"CD4+","t":"PE-/-","y":0.6,"w":0.061},{"c":"CD4+","t":"PE-/-","y":0.7,"w":0.1},{"c":"CD4+","t":"PE-/-","y":0.8,"w":0.14},{"c":"CD4+","t":"PE-/-","y":0.9,"w":0.172},{"c":"CD4+","t":"PE-/-","y":1.0,"w":0.19},{"c":"CD4+","t":"PE-/-","y":1.11,"w":0.195},{"c":"CD4+","t":"PE-/-","y":1.21,"w":0.183},{"c":"CD4+","t":"PE-/-","y":1.31,"w":0.154},{"c":"CD4+","t":"PE-/-","y":1.41,"w":0.114},{"c":"CD4+","t":"PE-/-","y":1.51,"w":0.081},{"c":"CD4+","t":"PE-/-","y":1.61,"w":0.061},{"c":"CD4+","t":"PE-/-","y":1.71,"w":0.045},{"c":"CD4+","t":"PE-/-","y":1.81,"w":0.033},{"c":"CD4+","t":"PE-/-","y":1.91,"w":0.024},{"c":"CD4+","t":"PE-/-","y":2.02,"w":0.02},{"c":"CD4+","t":"PE-/-","y":2.14,"w":0.016},{"c":"CD4+","t":"PE-/-","y":2.14,"w":0},{"c":"CD4+","t":"PE-/-","y":0,"w":0},
{"c":"CD8+","t":"PE+/+","y":0,"w":0},{"c":"CD8+","t":"PE+/+","y":0,"w":0.455},{"c":"CD8+","t":"PE+/+","y":0.045,"w":0.354},{"c":"CD8+","t":"PE+/+","y":0.1,"w":0.264},{"c":"CD8+","t":"PE+/+","y":0.15,"w":0.19},{"c":"CD8+","t":"PE+/+","y":0.2,"w":0.138},{"c":"CD8+","t":"PE+/+","y":0.27,"w":0.098},{"c":"CD8+","t":"PE+/+","y":0.35,"w":0.081},{"c":"CD8+","t":"PE+/+","y":0.42,"w":0.09},{"c":"CD8+","t":"PE+/+","y":0.53,"w":0.122},{"c":"CD8+","t":"PE+/+","y":0.63,"w":0.16},{"c":"CD8+","t":"PE+/+","y":0.73,"w":0.18},{"c":"CD8+","t":"PE+/+","y":0.83,"w":0.19},{"c":"CD8+","t":"PE+/+","y":0.93,"w":0.192},{"c":"CD8+","t":"PE+/+","y":1.03,"w":0.185},{"c":"CD8+","t":"PE+/+","y":1.13,"w":0.17},{"c":"CD8+","t":"PE+/+","y":1.23,"w":0.146},{"c":"CD8+","t":"PE+/+","y":1.33,"w":0.118},{"c":"CD8+","t":"PE+/+","y":1.43,"w":0.085},{"c":"CD8+","t":"PE+/+","y":1.54,"w":0.057},{"c":"CD8+","t":"PE+/+","y":1.64,"w":0.04},{"c":"CD8+","t":"PE+/+","y":1.74,"w":0.033},{"c":"CD8+","t":"PE+/+","y":1.74,"w":0},{"c":"CD8+","t":"PE+/+","y":0,"w":0},
{"c":"CD8+","t":"PE-/-","y":0,"w":0},{"c":"CD8+","t":"PE-/-","y":0,"w":0.46},{"c":"CD8+","t":"PE-/-","y":0.045,"w":0.358},{"c":"CD8+","t":"PE-/-","y":0.1,"w":0.264},{"c":"CD8+","t":"PE-/-","y":0.15,"w":0.195},{"c":"CD8+","t":"PE-/-","y":0.2,"w":0.146},{"c":"CD8+","t":"PE-/-","y":0.27,"w":0.114},{"c":"CD8+","t":"PE-/-","y":0.35,"w":0.106},{"c":"CD8+","t":"PE-/-","y":0.42,"w":0.122},{"c":"CD8+","t":"PE-/-","y":0.53,"w":0.163},{"c":"CD8+","t":"PE-/-","y":0.63,"w":0.2},{"c":"CD8+","t":"PE-/-","y":0.73,"w":0.22},{"c":"CD8+","t":"PE-/-","y":0.83,"w":0.228},{"c":"CD8+","t":"PE-/-","y":0.93,"w":0.228},{"c":"CD8+","t":"PE-/-","y":1.03,"w":0.212},{"c":"CD8+","t":"PE-/-","y":1.13,"w":0.18},{"c":"CD8+","t":"PE-/-","y":1.23,"w":0.14},{"c":"CD8+","t":"PE-/-","y":1.33,"w":0.104},{"c":"CD8+","t":"PE-/-","y":1.43,"w":0.073},{"c":"CD8+","t":"PE-/-","y":1.54,"w":0.049},{"c":"CD8+","t":"PE-/-","y":1.64,"w":0.033},{"c":"CD8+","t":"PE-/-","y":1.76,"w":0.024},{"c":"CD8+","t":"PE-/-","y":1.91,"w":0.02},{"c":"CD8+","t":"PE-/-","y":2.02,"w":0.016},{"c":"CD8+","t":"PE-/-","y":2.13,"w":0.016},{"c":"CD8+","t":"PE-/-","y":2.13,"w":0},{"c":"CD8+","t":"PE-/-","y":0,"w":0}
]
},
"vconcat": [
{
 "width": 427, "height": 313,
 "resolve": {"scale": {"y": "independent", "xOffset": "independent"}},
 "layer": [
  {"data": {"name": "Rnls"}, "transform": [{"filter": "datum.t == 'PE+/+'"}],
   "mark": {"type": "line", "filled": true, "stroke": "#3a3a3a", "strokeWidth": 0.7, "strokeJoin": "round"},
   "encoding": {
    "x": {"field": "c", "type": "nominal", "scale": {"domain": ["DN","ISP","DP","CD4+","CD8+"], "paddingInner": 0, "paddingOuter": 0.1}, "axis": {"title": null, "labelAngle": 0}},
    "xOffset": {"field": "w", "type": "quantitative", "scale": {"domain": [-0.5, 0.5], "reverse": true}},
    "y": {"field": "y", "type": "quantitative", "scale": {"domain": [-0.215, 4.525], "nice": false, "zero": false}, "axis": {"values": [0,1,2,3,4], "title": "expression", "titleX": -34, "titleY": 213.7, "titleAlign": "left", "titleBaseline": "alphabetic", "titleAngle": 270}},
    "fill": {"field": "t", "type": "nominal", "scale": {"domain": ["PE+/+","PE-/-"], "range": ["#000000","#E5432A"]}, "legend": {"title": null, "orient": "none", "legendX": 498, "legendY": 64, "direction": "horizontal", "symbolType": "square", "symbolSize": 2450, "symbolStrokeColor": "#3c3c3c", "symbolStrokeWidth": 2.5, "labelFontSize": 56, "labelFont": "Liberation Sans", "labelColor": "#000", "labelOffset": 6, "columnPadding": 8, "labelLimit": 0, "labelExpr": "datum.label == 'PE+/+' ? 'PEᐩᐟᐩ' : 'PEᐨᐟᐨ'"}},
    "detail": {"field": "c"},
    "order": {"value": null}
   }},
  {"data": {"name": "Rnls"}, "transform": [{"filter": "datum.t == 'PE-/-'"}],
   "mark": {"type": "line", "filled": true, "stroke": "#3a3a3a", "strokeWidth": 0.7, "strokeJoin": "round"},
   "encoding": {
    "x": {"field": "c", "type": "nominal"},
    "xOffset": {"field": "w", "type": "quantitative", "scale": {"domain": [-0.5, 0.5]}},
    "y": {"field": "y", "type": "quantitative", "scale": {"domain": [-0.215, 4.525], "nice": false, "zero": false}, "axis": null},
    "fill": {"field": "t", "type": "nominal", "scale": {"domain": ["PE+/+","PE-/-"], "range": ["#000000","#E5432A"]}, "legend": {"title": null, "orient": "none", "legendX": 498, "legendY": 64, "direction": "horizontal", "symbolType": "square", "symbolSize": 2450, "symbolStrokeColor": "#3c3c3c", "symbolStrokeWidth": 2.5, "labelFontSize": 56, "labelFont": "Liberation Sans", "labelColor": "#000", "labelOffset": 6, "columnPadding": 8, "labelLimit": 0, "labelExpr": "datum.label == 'PE+/+' ? 'PEᐩᐟᐩ' : 'PEᐨᐟᐨ'"}},
    "detail": {"field": "c"},
    "order": {"value": null}
   }},
  {"data": {"name": "pv"}, "transform": [{"filter": "datum.g == 'Rnls'"}],
   "mark": {"type": "text", "font": "Liberation Sans", "fontSize": 21, "baseline": "alphabetic", "color": "#000"},
   "encoding": {
    "x": {"field": "c", "type": "nominal"},
    "y": {"datum": 4.03, "type": "quantitative", "scale": {"domain": [-0.215, 4.525], "nice": false, "zero": false}, "axis": {"orient": "left", "domain": false, "ticks": false, "labels": false, "title": "Rnls", "titleFontStyle": "italic", "titleX": -34, "titleY": 282, "titleAlign": "left", "titleBaseline": "alphabetic", "titleAngle": 270}},
    "text": {"field": "p"}
   }}
 ]
},
{"hconcat": [
{
 "width": 427, "height": 313,
 "resolve": {"scale": {"y": "independent", "xOffset": "independent"}},
 "layer": [
  {"data": {"name": "Lipo3"}, "transform": [{"filter": "datum.t == 'PE+/+'"}],
   "mark": {"type": "line", "filled": true, "stroke": "#3a3a3a", "strokeWidth": 0.7, "strokeJoin": "round"},
   "encoding": {
    "x": {"field": "c", "type": "nominal", "scale": {"domain": ["DN","ISP","DP","CD4+","CD8+"], "paddingInner": 0, "paddingOuter": 0.1}, "axis": {"title": null, "labelAngle": 0}},
    "xOffset": {"field": "w", "type": "quantitative", "scale": {"domain": [-0.5, 0.5], "reverse": true}},
    "y": {"field": "y", "type": "quantitative", "scale": {"domain": [-0.215, 4.525], "nice": false, "zero": false}, "axis": {"values": [0,1,2,3,4], "title": "expression", "titleX": -34, "titleY": 198.3, "titleAlign": "left", "titleBaseline": "alphabetic", "titleAngle": 270}},
    "fill": {"field": "t", "type": "nominal", "scale": {"domain": ["PE+/+","PE-/-"], "range": ["#000000","#E5432A"]}, "legend": {"title": null, "orient": "none", "legendX": 498, "legendY": 64, "direction": "horizontal", "symbolType": "square", "symbolSize": 2450, "symbolStrokeColor": "#3c3c3c", "symbolStrokeWidth": 2.5, "labelFontSize": 56, "labelFont": "Liberation Sans", "labelColor": "#000", "labelOffset": 6, "columnPadding": 8, "labelLimit": 0, "labelExpr": "datum.label == 'PE+/+' ? 'PEᐩᐟᐩ' : 'PEᐨᐟᐨ'"}},
    "detail": {"field": "c"},
    "order": {"value": null}
   }},
  {"data": {"name": "Lipo3"}, "transform": [{"filter": "datum.t == 'PE-/-'"}],
   "mark": {"type": "line", "filled": true, "stroke": "#3a3a3a", "strokeWidth": 0.7, "strokeJoin": "round"},
   "encoding": {
    "x": {"field": "c", "type": "nominal"},
    "xOffset": {"field": "w", "type": "quantitative", "scale": {"domain": [-0.5, 0.5]}},
    "y": {"field": "y", "type": "quantitative", "scale": {"domain": [-0.215, 4.525], "nice": false, "zero": false}, "axis": null},
    "fill": {"field": "t", "type": "nominal", "scale": {"domain": ["PE+/+","PE-/-"], "range": ["#000000","#E5432A"]}, "legend": {"title": null, "orient": "none", "legendX": 498, "legendY": 64, "direction": "horizontal", "symbolType": "square", "symbolSize": 2450, "symbolStrokeColor": "#3c3c3c", "symbolStrokeWidth": 2.5, "labelFontSize": 56, "labelFont": "Liberation Sans", "labelColor": "#000", "labelOffset": 6, "columnPadding": 8, "labelLimit": 0, "labelExpr": "datum.label == 'PE+/+' ? 'PEᐩᐟᐩ' : 'PEᐨᐟᐨ'"}},
    "detail": {"field": "c"},
    "order": {"value": null}
   }},
  {"data": {"name": "pv"}, "transform": [{"filter": "datum.g == 'Lipo3'"}],
   "mark": {"type": "text", "font": "Liberation Sans", "fontSize": 21, "baseline": "alphabetic", "color": "#000"},
   "encoding": {
    "x": {"field": "c", "type": "nominal"},
    "y": {"datum": 4.03, "type": "quantitative", "scale": {"domain": [-0.215, 4.525], "nice": false, "zero": false}, "axis": {"orient": "left", "domain": false, "ticks": false, "labels": false, "title": "Lipo3", "titleFontStyle": "italic", "titleX": -34, "titleY": 280, "titleAlign": "left", "titleBaseline": "alphabetic", "titleAngle": 270}},
    "text": {"field": "p"}
   }}
 ]
},
{
 "width": 427, "height": 313,
 "resolve": {"scale": {"y": "independent", "xOffset": "independent"}},
 "layer": [
  {"data": {"name": "Atad1"}, "transform": [{"filter": "datum.t == 'PE+/+'"}],
   "mark": {"type": "line", "filled": true, "stroke": "#3a3a3a", "strokeWidth": 0.7, "strokeJoin": "round"},
   "encoding": {
    "x": {"field": "c", "type": "nominal", "scale": {"domain": ["DN","ISP","DP","CD4+","CD8+"], "paddingInner": 0, "paddingOuter": 0.1}, "axis": {"title": null, "labelAngle": 0}},
    "xOffset": {"field": "w", "type": "quantitative", "scale": {"domain": [-0.5, 0.5], "reverse": true}},
    "y": {"field": "y", "type": "quantitative", "scale": {"domain": [-0.215, 4.525], "nice": false, "zero": false}, "axis": {"values": [0,1,2,3,4], "title": "expression", "titleX": -34, "titleY": 188.6, "titleAlign": "left", "titleBaseline": "alphabetic", "titleAngle": 270}},
    "fill": {"field": "t", "type": "nominal", "scale": {"domain": ["PE+/+","PE-/-"], "range": ["#000000","#E5432A"]}, "legend": {"title": null, "orient": "none", "legendX": 498, "legendY": 64, "direction": "horizontal", "symbolType": "square", "symbolSize": 2450, "symbolStrokeColor": "#3c3c3c", "symbolStrokeWidth": 2.5, "labelFontSize": 56, "labelFont": "Liberation Sans", "labelColor": "#000", "labelOffset": 6, "columnPadding": 8, "labelLimit": 0, "labelExpr": "datum.label == 'PE+/+' ? 'PEᐩᐟᐩ' : 'PEᐨᐟᐨ'"}},
    "detail": {"field": "c"},
    "order": {"value": null}
   }},
  {"data": {"name": "Atad1"}, "transform": [{"filter": "datum.t == 'PE-/-'"}],
   "mark": {"type": "line", "filled": true, "stroke": "#3a3a3a", "strokeWidth": 0.7, "strokeJoin": "round"},
   "encoding": {
    "x": {"field": "c", "type": "nominal"},
    "xOffset": {"field": "w", "type": "quantitative", "scale": {"domain": [-0.5, 0.5]}},
    "y": {"field": "y", "type": "quantitative", "scale": {"domain": [-0.215, 4.525], "nice": false, "zero": false}, "axis": null},
    "fill": {"field": "t", "type": "nominal", "scale": {"domain": ["PE+/+","PE-/-"], "range": ["#000000","#E5432A"]}, "legend": {"title": null, "orient": "none", "legendX": 498, "legendY": 64, "direction": "horizontal", "symbolType": "square", "symbolSize": 2450, "symbolStrokeColor": "#3c3c3c", "symbolStrokeWidth": 2.5, "labelFontSize": 56, "labelFont": "Liberation Sans", "labelColor": "#000", "labelOffset": 6, "columnPadding": 8, "labelLimit": 0, "labelExpr": "datum.label == 'PE+/+' ? 'PEᐩᐟᐩ' : 'PEᐨᐟᐨ'"}},
    "detail": {"field": "c"},
    "order": {"value": null}
   }},
  {"data": {"name": "pv"}, "transform": [{"filter": "datum.g == 'Atad1'"}],
   "mark": {"type": "text", "font": "Liberation Sans", "fontSize": 21, "baseline": "alphabetic", "color": "#000"},
   "encoding": {
    "x": {"field": "c", "type": "nominal"},
    "y": {"datum": 4.03, "type": "quantitative", "scale": {"domain": [-0.215, 4.525], "nice": false, "zero": false}, "axis": {"orient": "left", "domain": false, "ticks": false, "labels": false, "title": "Atad1", "titleFontStyle": "italic", "titleX": -34, "titleY": 275.3, "titleAlign": "left", "titleBaseline": "alphabetic", "titleAngle": 270}},
    "text": {"field": "p"}
   }}
 ]
}
], "spacing": 16},
{"hconcat": [
{
 "width": 427, "height": 313,
 "resolve": {"scale": {"y": "independent", "xOffset": "independent"}},
 "layer": [
  {"data": {"name": "Minpp1"}, "transform": [{"filter": "datum.t == 'PE+/+'"}],
   "mark": {"type": "line", "filled": true, "stroke": "#3a3a3a", "strokeWidth": 0.7, "strokeJoin": "round"},
   "encoding": {
    "x": {"field": "c", "type": "nominal", "scale": {"domain": ["DN","ISP","DP","CD4+","CD8+"], "paddingInner": 0, "paddingOuter": 0.1}, "axis": {"title": null, "labelAngle": 0}},
    "xOffset": {"field": "w", "type": "quantitative", "scale": {"domain": [-0.5, 0.5], "reverse": true}},
    "y": {"field": "y", "type": "quantitative", "scale": {"domain": [-0.215, 4.525], "nice": false, "zero": false}, "axis": {"values": [0,1,2,3,4], "title": "expression", "titleX": -34, "titleY": 193.3, "titleAlign": "left", "titleBaseline": "alphabetic", "titleAngle": 270}},
    "fill": {"field": "t", "type": "nominal", "scale": {"domain": ["PE+/+","PE-/-"], "range": ["#000000","#E5432A"]}, "legend": {"title": null, "orient": "none", "legendX": 498, "legendY": 64, "direction": "horizontal", "symbolType": "square", "symbolSize": 2450, "symbolStrokeColor": "#3c3c3c", "symbolStrokeWidth": 2.5, "labelFontSize": 56, "labelFont": "Liberation Sans", "labelColor": "#000", "labelOffset": 6, "columnPadding": 8, "labelLimit": 0, "labelExpr": "datum.label == 'PE+/+' ? 'PEᐩᐟᐩ' : 'PEᐨᐟᐨ'"}},
    "detail": {"field": "c"},
    "order": {"value": null}
   }},
  {"data": {"name": "Minpp1"}, "transform": [{"filter": "datum.t == 'PE-/-'"}],
   "mark": {"type": "line", "filled": true, "stroke": "#3a3a3a", "strokeWidth": 0.7, "strokeJoin": "round"},
   "encoding": {
    "x": {"field": "c", "type": "nominal"},
    "xOffset": {"field": "w", "type": "quantitative", "scale": {"domain": [-0.5, 0.5]}},
    "y": {"field": "y", "type": "quantitative", "scale": {"domain": [-0.215, 4.525], "nice": false, "zero": false}, "axis": null},
    "fill": {"field": "t", "type": "nominal", "scale": {"domain": ["PE+/+","PE-/-"], "range": ["#000000","#E5432A"]}, "legend": {"title": null, "orient": "none", "legendX": 498, "legendY": 64, "direction": "horizontal", "symbolType": "square", "symbolSize": 2450, "symbolStrokeColor": "#3c3c3c", "symbolStrokeWidth": 2.5, "labelFontSize": 56, "labelFont": "Liberation Sans", "labelColor": "#000", "labelOffset": 6, "columnPadding": 8, "labelLimit": 0, "labelExpr": "datum.label == 'PE+/+' ? 'PEᐩᐟᐩ' : 'PEᐨᐟᐨ'"}},
    "detail": {"field": "c"},
    "order": {"value": null}
   }},
  {"data": {"name": "pv"}, "transform": [{"filter": "datum.g == 'Minpp1'"}],
   "mark": {"type": "text", "font": "Liberation Sans", "fontSize": 21, "baseline": "alphabetic", "color": "#000"},
   "encoding": {
    "x": {"field": "c", "type": "nominal"},
    "y": {"datum": 4.03, "type": "quantitative", "scale": {"domain": [-0.215, 4.525], "nice": false, "zero": false}, "axis": {"orient": "left", "domain": false, "ticks": false, "labels": false, "title": "Minpp1", "titleFontStyle": "italic", "titleX": -34, "titleY": 300, "titleAlign": "left", "titleBaseline": "alphabetic", "titleAngle": 270}},
    "text": {"field": "p"}
   }}
 ]
},
{
 "width": 427, "height": 313,
 "resolve": {"scale": {"y": "independent", "xOffset": "independent"}},
 "layer": [
  {"data": {"name": "Papss2"}, "transform": [{"filter": "datum.t == 'PE+/+'"}],
   "mark": {"type": "line", "filled": true, "stroke": "#3a3a3a", "strokeWidth": 0.7, "strokeJoin": "round"},
   "encoding": {
    "x": {"field": "c", "type": "nominal", "scale": {"domain": ["DN","ISP","DP","CD4+","CD8+"], "paddingInner": 0, "paddingOuter": 0.1}, "axis": {"title": null, "labelAngle": 0}},
    "xOffset": {"field": "w", "type": "quantitative", "scale": {"domain": [-0.5, 0.5], "reverse": true}},
    "y": {"field": "y", "type": "quantitative", "scale": {"domain": [-0.215, 4.525], "nice": false, "zero": false}, "axis": {"values": [0,1,2,3,4], "title": "expression", "titleX": -34, "titleY": 183.7, "titleAlign": "left", "titleBaseline": "alphabetic", "titleAngle": 270}},
    "fill": {"field": "t", "type": "nominal", "scale": {"domain": ["PE+/+","PE-/-"], "range": ["#000000","#E5432A"]}, "legend": {"title": null, "orient": "none", "legendX": 498, "legendY": 64, "direction": "horizontal", "symbolType": "square", "symbolSize": 2450, "symbolStrokeColor": "#3c3c3c", "symbolStrokeWidth": 2.5, "labelFontSize": 56, "labelFont": "Liberation Sans", "labelColor": "#000", "labelOffset": 6, "columnPadding": 8, "labelLimit": 0, "labelExpr": "datum.label == 'PE+/+' ? 'PEᐩᐟᐩ' : 'PEᐨᐟᐨ'"}},
    "detail": {"field": "c"},
    "order": {"value": null}
   }},
  {"data": {"name": "Papss2"}, "transform": [{"filter": "datum.t == 'PE-/-'"}],
   "mark": {"type": "line", "filled": true, "stroke": "#3a3a3a", "strokeWidth": 0.7, "strokeJoin": "round"},
   "encoding": {
    "x": {"field": "c", "type": "nominal"},
    "xOffset": {"field": "w", "type": "quantitative", "scale": {"domain": [-0.5, 0.5]}},
    "y": {"field": "y", "type": "quantitative", "scale": {"domain": [-0.215, 4.525], "nice": false, "zero": false}, "axis": null},
    "fill": {"field": "t", "type": "nominal", "scale": {"domain": ["PE+/+","PE-/-"], "range": ["#000000","#E5432A"]}, "legend": {"title": null, "orient": "none", "legendX": 498, "legendY": 64, "direction": "horizontal", "symbolType": "square", "symbolSize": 2450, "symbolStrokeColor": "#3c3c3c", "symbolStrokeWidth": 2.5, "labelFontSize": 56, "labelFont": "Liberation Sans", "labelColor": "#000", "labelOffset": 6, "columnPadding": 8, "labelLimit": 0, "labelExpr": "datum.label == 'PE+/+' ? 'PEᐩᐟᐩ' : 'PEᐨᐟᐨ'"}},
    "detail": {"field": "c"},
    "order": {"value": null}
   }},
  {"data": {"name": "pv"}, "transform": [{"filter": "datum.g == 'Papss2'"}],
   "mark": {"type": "text", "font": "Liberation Sans", "fontSize": 21, "baseline": "alphabetic", "color": "#000"},
   "encoding": {
    "x": {"field": "c", "type": "nominal"},
    "y": {"datum": 4.03, "type": "quantitative", "scale": {"domain": [-0.215, 4.525], "nice": false, "zero": false}, "axis": {"orient": "left", "domain": false, "ticks": false, "labels": false, "title": "Papss2", "titleFontStyle": "italic", "titleX": -34, "titleY": 292, "titleAlign": "left", "titleBaseline": "alphabetic", "titleAngle": 270}},
    "text": {"field": "p"}
   }}
 ]
}
], "spacing": 16}
]
}
